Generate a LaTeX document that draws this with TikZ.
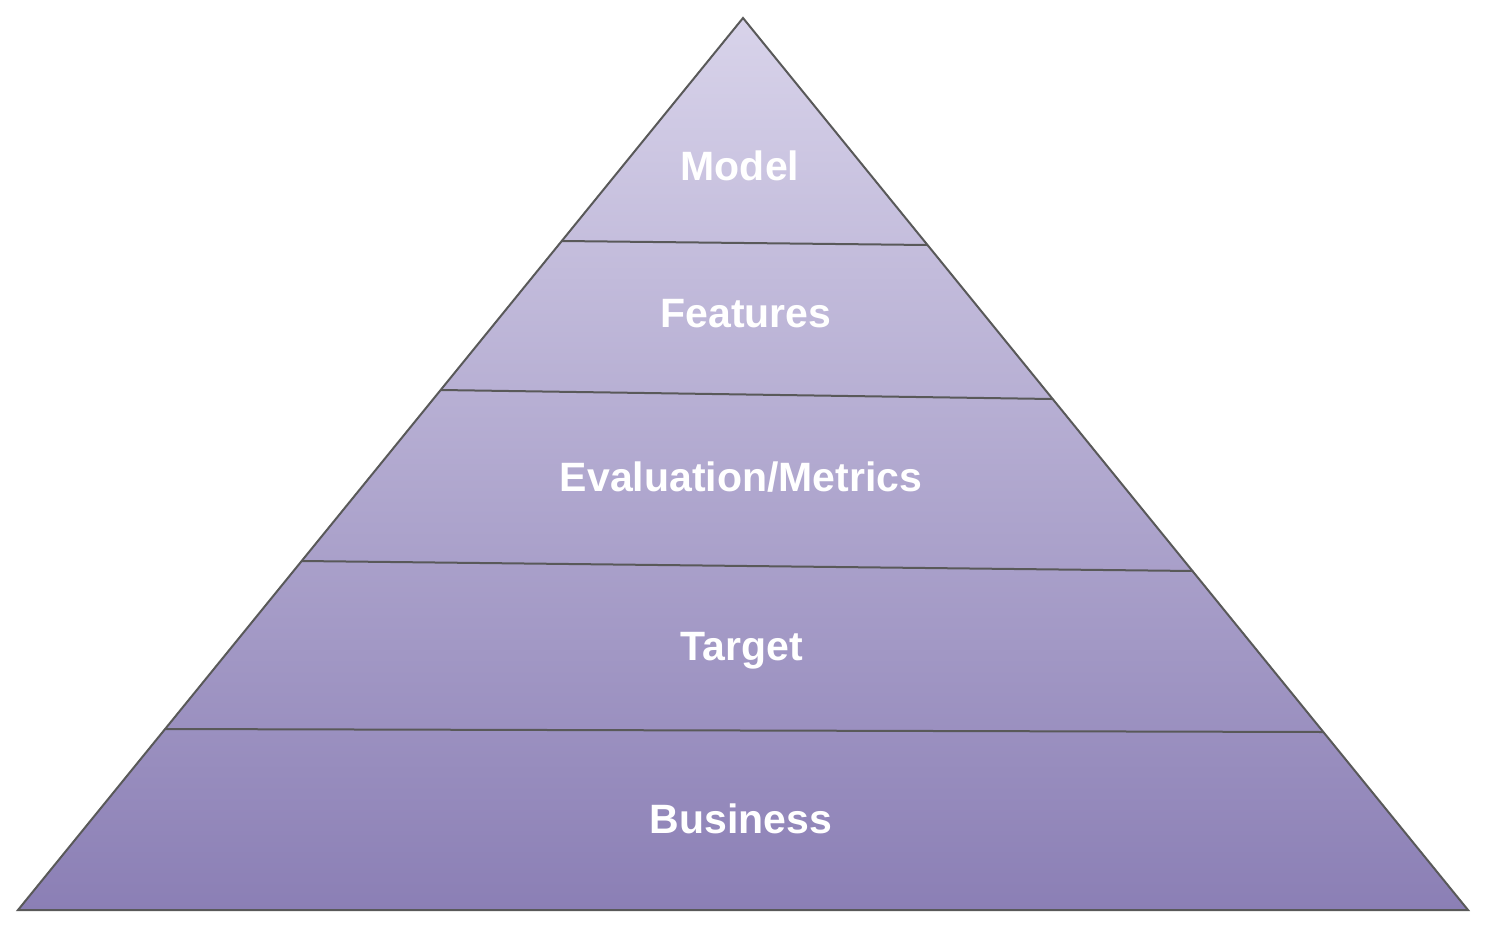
\documentclass[tikz,border=0pt]{standalone}
\usepackage{fontspec}
\setmainfont{Liberation Sans}
\definecolor{topc}{HTML}{D8D3EA}
\definecolor{botc}{HTML}{8B7FB5}
\definecolor{linec}{HTML}{595959}
\begin{document}
\begin{tikzpicture}[x=1pt,y=-1pt,
  divider/.style={draw=linec,line width=2pt},
  label/.style={text=white,font=\fontsize{41}{43}\selectfont\bfseries,anchor=center}]
\useasboundingbox (0,0) rectangle (1488,926);
\coordinate (apex) at (743,18);
\coordinate (bl) at (18,910);
\coordinate (br) at (1468,910);
\shade[top color=topc,bottom color=botc] (apex) -- (br) -- (bl) -- cycle;
\coordinate (l1) at (562,241); \coordinate (r1) at (927,245);
\coordinate (l2) at (441,390); \coordinate (r2) at (1052,399);
\coordinate (l3) at (302,561); \coordinate (r3) at (1193,571);
\coordinate (l4) at (165,729); \coordinate (r4) at (1323,732);
\draw[divider] (l1) -- (r1);
\draw[divider] (l2) -- (r2);
\draw[divider] (l3) -- (r3);
\draw[divider] (l4) -- (r4);
\draw[draw=linec,line width=2pt,line join=miter] (apex) -- (br) -- (bl) -- cycle;
\node[label] (model) at (740,166) {Model};
\node[label] (features) at (746,314) {Features};
\node[label] (eval) at (741,477) {Evaluation/Metrics};
\node[label] (target) at (742,651) {Target};
\node[label] (business) at (741,819) {Business};
\end{tikzpicture}
\end{document}
